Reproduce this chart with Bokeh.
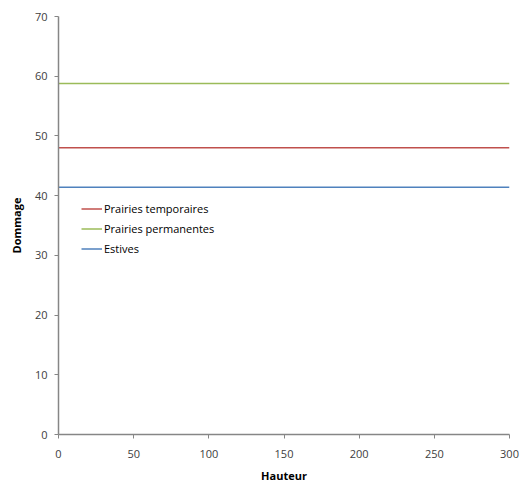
from bokeh.plotting import figure
from bokeh.models import Range1d, FixedTicker, Legend, LegendItem
from bokeh.embed import file_html
from bokeh.resources import INLINE

hauteur = [0, 300]
prairies_temporaires = [48.0, 48.0]
prairies_permanentes = [58.8, 58.8]
estives = [41.4, 41.4]
series_names = ["Prairies temporaires", "Prairies permanentes", "Estives"]
colors = ["#C0504D", "#9BBB59", "#4F81BD"]
x_ticks = [0, 50, 100, 150, 200, 250, 300]
y_ticks = [0, 10, 20, 30, 40, 50, 60, 70]

FONT = "Open Sans"
AX = "#868686"

p = figure(width=521, height=488, output_backend="svg", toolbar_location=None,
           x_range=Range1d(0, 300), y_range=Range1d(0, 70),
           min_border_left=58, min_border_right=12, min_border_top=16, min_border_bottom=54)
p.outline_line_color = None
p.xgrid.grid_line_color = None
p.ygrid.grid_line_color = None
p.background_fill_color = "white"

renderers = []
for ys, c in zip([prairies_temporaires, prairies_permanentes, estives], colors):
    r = p.line(hauteur, ys, line_color=c, line_width=1.5)
    renderers.append(r)

for ax in (p.xaxis[0], p.yaxis[0]):
    ax.axis_line_color = AX
    ax.axis_line_width = 1.5
    ax.major_tick_line_color = AX
    ax.major_tick_in = 0
    ax.major_tick_out = 4
    ax.minor_tick_line_color = None
    ax.major_label_text_font = FONT
    ax.major_label_text_font_size = "11px"
    ax.major_label_text_color = "#404040"
    ax.axis_label_text_font = FONT
    ax.axis_label_text_font_size = "11px"
    ax.axis_label_text_font_style = "bold"
    ax.axis_label_text_color = "#000000"

p.xaxis[0].ticker = FixedTicker(ticks=x_ticks)
p.yaxis[0].ticker = FixedTicker(ticks=y_ticks)
p.xaxis[0].axis_label = "Hauteur"
p.yaxis[0].axis_label = "Dommage"
p.xaxis[0].major_label_standoff = 11
p.xaxis[0].axis_label_standoff = 7
p.yaxis[0].major_label_standoff = 7
p.yaxis[0].axis_label_standoff = 8

legend = Legend(items=[LegendItem(label=n, renderers=[r]) for n, r in zip(series_names, renderers)],
                location=(23, 176), padding=0, margin=0, spacing=1,
                glyph_width=21, glyph_height=19, label_height=19, label_standoff=2,
                border_line_color=None, background_fill_alpha=0,
                label_text_font=FONT, label_text_font_size="11px", label_text_color="#000000")
p.add_layout(legend)

open("out.html", "w").write(file_html(p, INLINE))
